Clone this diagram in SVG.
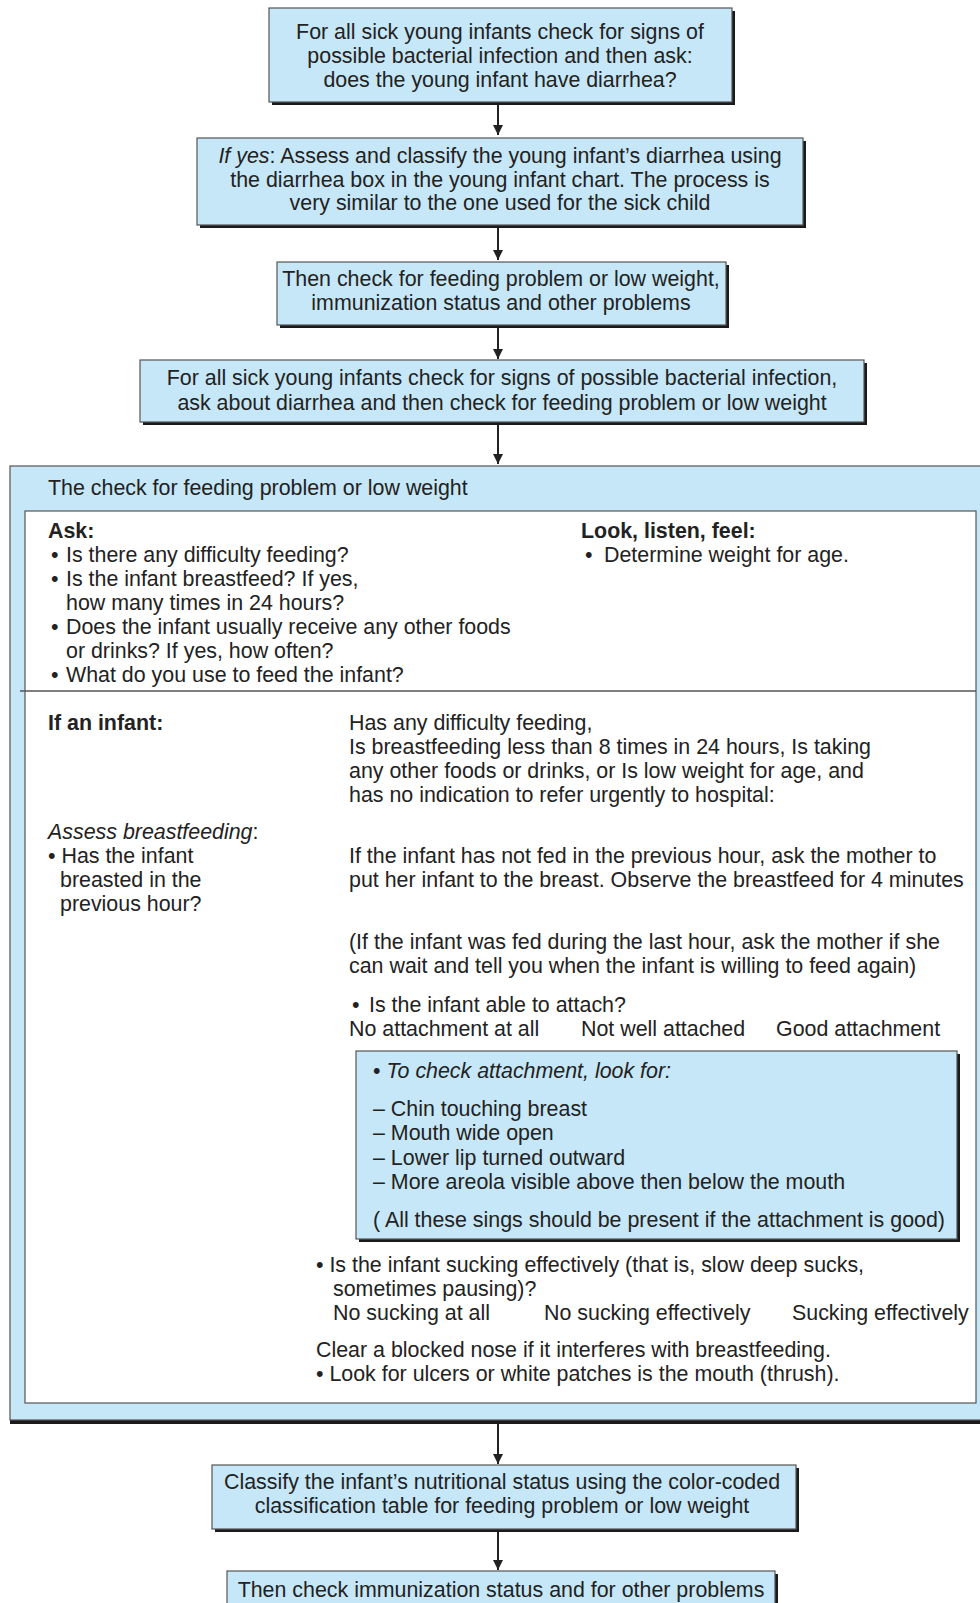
<svg xmlns="http://www.w3.org/2000/svg" width="980" height="1603" viewBox="0 0 980 1603">
<style>
text{font-family:"Liberation Sans",Arial,sans-serif;font-size:21.4px;fill:#222}
.c{text-anchor:middle}
.b{font-weight:bold}
.i{font-style:italic}
.box{fill:#c6e7f7;stroke:#555;stroke-width:1.2}
.sh{fill:#1a1a1a}
.ln{stroke:#222;stroke-width:2;fill:none}
</style>
<defs>
<marker id="ah" viewBox="0 0 10 10" refX="10" refY="5" markerWidth="10" markerHeight="10" markerUnits="userSpaceOnUse" orient="auto">
<path d="M0,0 L10,5 L0,10 z" fill="#222"/>
</marker>
</defs>
<rect width="980" height="1603" fill="#fff"/>

<g id="connectors">
<line class="ln" x1="498" y1="103" x2="498" y2="135" marker-end="url(#ah)"/>
<line class="ln" x1="498" y1="226" x2="498" y2="260" marker-end="url(#ah)"/>
<line class="ln" x1="498" y1="326" x2="498" y2="359" marker-end="url(#ah)"/>
<line class="ln" x1="498" y1="424" x2="498" y2="464" marker-end="url(#ah)"/>
<line class="ln" x1="498" y1="1424" x2="498" y2="1464" marker-end="url(#ah)"/>
<line class="ln" x1="498" y1="1531" x2="498" y2="1570" marker-end="url(#ah)"/>
</g>

<g id="n1">
<rect class="sh" x="272" y="11" width="463" height="94"/>
<rect class="box" x="269" y="8" width="463" height="94"/>
<text class="c" x="500" y="39">For all sick young infants check for signs of</text>
<text class="c" x="500" y="63">possible bacterial infection and then ask:</text>
<text class="c" x="500" y="87">does the young infant have diarrhea?</text>
</g>

<g id="n2">
<rect class="sh" x="200" y="141" width="606" height="87"/>
<rect class="box" x="197" y="138" width="606" height="87"/>
<text class="c" x="500" y="163"><tspan class="i">If yes</tspan>: Assess and classify the young infant’s diarrhea using</text>
<text class="c" x="500" y="187">the diarrhea box in the young infant chart. The process is</text>
<text class="c" x="500" y="210">very similar to the one used for the sick child</text>
</g>

<g id="n3">
<rect class="sh" x="280" y="265" width="449" height="63"/>
<rect class="box" x="277" y="262" width="449" height="63"/>
<text class="c" x="501" y="286">Then check for feeding problem or low weight,</text>
<text class="c" x="501" y="310">immunization status and other problems</text>
</g>

<g id="n4">
<rect class="sh" x="143" y="363" width="724" height="62"/>
<rect class="box" x="140" y="360" width="724" height="62"/>
<text class="c" x="502" y="385">For all sick young infants check for signs of possible bacterial infection,</text>
<text class="c" x="502" y="410">ask about diarrhea and then check for feeding problem or low weight</text>
</g>

<g id="n5">
<rect class="sh" x="10" y="1419" width="980" height="5"/>
<rect class="box" x="10" y="466" width="985" height="954"/>
<text x="48" y="495">The check for feeding problem or low weight</text>
<rect x="25" y="511" width="951" height="892" fill="#fff" stroke="#555" stroke-width="1.2"/>
<line x1="20" y1="691" x2="976" y2="691" stroke="#555" stroke-width="1.5"/>

<text class="b" x="48" y="538">Ask:</text>
<text x="51" y="562">•</text><text x="66" y="562">Is there any difficulty feeding?</text>
<text x="51" y="586">•</text><text x="66" y="586">Is the infant breastfeed? If yes,</text>
<text x="66" y="610">how many times in 24 hours?</text>
<text x="51" y="634">•</text><text x="66" y="634">Does the infant usually receive any other foods</text>
<text x="66" y="658">or drinks? If yes, how often?</text>
<text x="51" y="682">•</text><text x="66" y="682">What do you use to feed the infant?</text>

<text class="b" x="581" y="538">Look, listen, feel:</text>
<text x="585" y="562">•</text><text x="604" y="562">Determine weight for age.</text>

<text class="b" x="48" y="730">If an infant:</text>
<text x="349" y="730">Has any difficulty feeding,</text>
<text x="349" y="754">Is breastfeeding less than 8 times in 24 hours, Is taking</text>
<text x="349" y="778">any other foods or drinks, or Is low weight for age, and</text>
<text x="349" y="802">has no indication to refer urgently to hospital:</text>

<text x="48" y="839"><tspan class="i">Assess breastfeeding</tspan>:</text>
<text x="48" y="863">• Has the infant</text>
<text x="60" y="887">breasted in the</text>
<text x="60" y="911">previous hour?</text>

<text x="349" y="863">If the infant has not fed in the previous hour, ask the mother to</text>
<text x="349" y="887">put her infant to the breast. Observe the breastfeed for 4 minutes</text>
<text x="349" y="949">(If the infant was fed during the last hour, ask the mother if she</text>
<text x="349" y="973">can wait and tell you when the infant is willing to feed again)</text>

<text x="352" y="1012">•</text><text x="369" y="1012">Is the infant able to attach?</text>
<text x="349" y="1036">No attachment at all</text>
<text x="581" y="1036">Not well attached</text>
<text x="776" y="1036">Good attachment</text>

<text x="316" y="1272">• Is the infant sucking effectively (that is, slow deep sucks,</text>
<text x="333" y="1296">sometimes pausing)?</text>
<text x="333" y="1320">No sucking at all</text>
<text x="544" y="1320">No sucking effectively</text>
<text x="792" y="1320">Sucking effectively</text>
<text x="316" y="1357">Clear a blocked nose if it interferes with breastfeeding.</text>
<text x="316" y="1381">• Look for ulcers or white patches is the mouth (thrush).</text>
</g>

<g id="n6">
<rect class="sh" x="359" y="1054" width="601" height="188"/>
<rect class="box" x="356" y="1051" width="601" height="188"/>
<text x="373" y="1078">• <tspan class="i">To check attachment, look for:</tspan></text>
<text x="373" y="1116">– Chin touching breast</text>
<text x="373" y="1140">– Mouth wide open</text>
<text x="373" y="1165">– Lower lip turned outward</text>
<text x="373" y="1189">– More areola visible above then below the mouth</text>
<text x="373" y="1227">( All these sings should be present if the attachment is good)</text>
</g>

<g id="n7">
<rect class="sh" x="215" y="1468" width="584" height="64"/>
<rect class="box" x="212" y="1465" width="584" height="64"/>
<text class="c" x="502" y="1489">Classify the infant’s nutritional status using the color-coded</text>
<text class="c" x="502" y="1513">classification table for feeding problem or low weight</text>
</g>

<g id="n8">
<rect class="sh" x="230" y="1574" width="548" height="40"/>
<rect class="box" x="227" y="1571" width="548" height="40"/>
<text class="c" x="501" y="1597">Then check immunization status and for other problems</text>
</g>
</svg>
